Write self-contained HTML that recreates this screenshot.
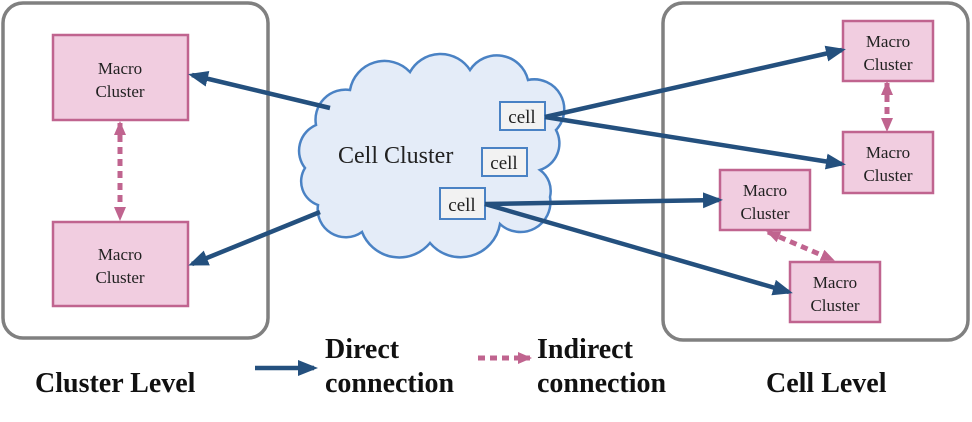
<!DOCTYPE html>
<html><head><style>body{margin:0;background:#fff}</style></head><body>
<svg width="972" height="417" viewBox="0 0 972 417" xmlns="http://www.w3.org/2000/svg" font-family="Liberation Serif, serif">
<defs>
<marker id="nbm" markerWidth="20" markerHeight="20" refX="16" refY="10" orient="auto" markerUnits="userSpaceOnUse" viewBox="0 0 20 20"><path d="M0,2 L20,10 L0,18 Z" fill="#24507e"/></marker>
<marker id="pk" markerWidth="14" markerHeight="14" refX="12" refY="7" orient="auto-start-reverse" markerUnits="userSpaceOnUse" viewBox="0 0 14 14"><path d="M0,1 L14,7 L0,13 Z" fill="#c0648f"/></marker>
</defs>
<rect x="3" y="3" width="265" height="335" rx="20" fill="none" stroke="#808080" stroke-width="3.5"/>
<rect x="663" y="3" width="305" height="337" rx="20" fill="none" stroke="#808080" stroke-width="3.5"/>
<g fill="#f1cde0" stroke="#c0648f" stroke-width="2.5">
<rect x="53" y="35" width="135" height="85"/>
<rect x="53" y="222" width="135" height="84"/>
<rect x="843" y="21" width="90" height="60"/>
<rect x="843" y="132" width="90" height="61"/>
<rect x="720" y="170" width="90" height="60"/>
<rect x="790" y="262" width="90" height="60"/>
</g>
<g font-size="17" fill="#222" text-anchor="middle">
<text x="120" y="74">Macro</text><text x="120" y="97">Cluster</text>
<text x="120" y="260">Macro</text><text x="120" y="283">Cluster</text>
<text x="888" y="47">Macro</text><text x="888" y="70">Cluster</text>
<text x="888" y="158">Macro</text><text x="888" y="181">Cluster</text>
<text x="765" y="196">Macro</text><text x="765" y="219">Cluster</text>
<text x="835" y="288">Macro</text><text x="835" y="311">Cluster</text>
</g>
<path d="M316,125 A30,30 0 0 1 350,90 A35,35 0 0 1 410,72 A35,35 0 0 1 470,70 A32,32 0 0 1 528,80 A30,30 0 0 1 556,130 A28,28 0 0 1 540,170 A26,26 0 0 1 550,197 A30,30 0 0 1 500,224 A40,40 0 0 1 430,243 A40,40 0 0 1 362,232 A28,28 0 0 1 318,205 A25,25 0 0 1 305,168 A28,28 0 0 1 316,125 Z" fill="#e4ecf8" stroke="#4a82c4" stroke-width="2.5"/>
<text x="338" y="163" font-size="24" fill="#222">Cell Cluster</text>
<g fill="#f2f2f2" stroke="#4a82c4" stroke-width="2">
<rect x="500" y="102" width="45" height="28"/>
<rect x="482" y="148" width="45" height="28"/>
<rect x="440" y="188" width="45" height="31"/>
</g>
<g font-size="19" fill="#222" text-anchor="middle">
<text x="522" y="123">cell</text><text x="504" y="169">cell</text><text x="462" y="211">cell</text>
</g>
<g stroke="#24507e" stroke-width="4.5" fill="none" marker-end="url(#nbm)">
<line x1="330" y1="108" x2="192" y2="75"/>
<line x1="320" y1="212" x2="192" y2="264"/>
<line x1="545" y1="117" x2="842" y2="50"/>
<line x1="545" y1="117" x2="842" y2="164"/>
<line x1="485" y1="204" x2="719" y2="200"/>
<line x1="485" y1="204" x2="789" y2="292"/>
<line x1="255" y1="368" x2="314" y2="368"/>
</g>
<g stroke="#c0648f" stroke-width="5" stroke-dasharray="7,5" fill="none" marker-start="url(#pk)" marker-end="url(#pk)">
<line x1="120" y1="123" x2="120" y2="219"/>
<line x1="887" y1="83" x2="887" y2="130"/>
<line x1="768" y1="232" x2="833" y2="260"/>
</g>
<line x1="478" y1="358" x2="530" y2="358" stroke="#c0648f" stroke-width="5" stroke-dasharray="7,5" marker-end="url(#pk)"/>
<g font-size="28" font-weight="bold" fill="#111">
<text x="325" y="358">Direct</text><text x="325" y="392">connection</text>
<text x="537" y="358">Indirect</text><text x="537" y="392">connection</text>
<text x="35" y="392">Cluster Level</text>
<text x="766" y="392">Cell Level</text>
</g>
</svg>
</body></html>
